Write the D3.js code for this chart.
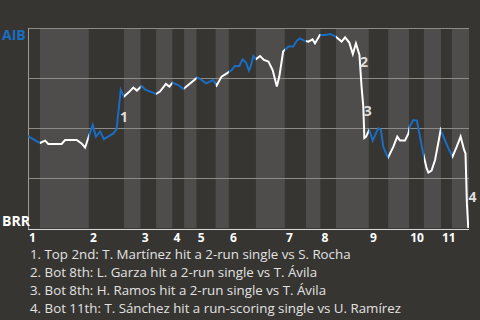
<!DOCTYPE html>
<html>
<head>
<meta charset="utf-8">
<script src="https://cdn.jsdelivr.net/npm/d3@7"></script>
<style>
body { margin: 0; background: #363531; }
svg { display: block; font-family: 'Open Sans', sans-serif; }
</style>
</head>
<body>
<script>
const teams = ['AIB', 'BRR'];

// half-inning edges, in plays from the first pitch (top 1st, bot 1st, top 2nd ...)
const halfEdges = [0, 3.4, 17.4, 27.4, 32.2, 36.6, 41.3, 44.6, 48.2, 53.6, 57.4,
    65.1, 73.4, 79.4, 83.6, 88, 97.4, 102.9, 108.9, 113.1, 118, 121.1, 126];

const innings = ['1', '2', '3', '4', '5', '6', '7', '8', '9', '10', '11'];

// [play, AIB win probability %]
const wp = [
    [0, 46], [3.4, 42.5], [4.9, 43.7], [5.8, 42], [9.6, 42], [10.6, 44], [13.9, 44],
    [15.3, 42.3], [16.3, 40.2], [17.2, 44.9], [18.5, 51.5], [19.4, 45.7], [20.6, 48.2],
    [21.7, 44.4], [22.9, 45.7], [24.4, 47.3], [25.3, 49.3], [26.5, 69], [27.4, 65.7],
    [28.7, 67.7], [30.1, 70.2], [31.1, 68.7], [32.5, 71], [33.4, 69.3], [34.9, 68.2],
    [36.6, 67], [37.7, 68.2], [39.4, 72], [40.4, 70.7], [41.3, 72.7], [42.9, 71.5],
    [44.4, 69.5], [46.3, 72.3], [48.4, 75.3], [49.6, 74], [50.9, 72.3], [52.9, 74],
    [53.9, 71.2], [55.3, 75.7], [56.8, 77.3], [58.2, 79], [59.1, 81], [60.4, 81],
    [61.3, 84.3], [62.3, 82.7], [63.1, 78.7], [63.6, 80.7], [64.4, 86], [65.1, 84.3],
    [66.3, 86], [67.4, 84], [68.7, 83.2], [69.9, 79], [71.1, 70.7], [71.8, 75.7],
    [72.9, 88.2], [74.4, 90.7], [75.8, 90.7], [76.8, 93.7], [77.7, 94.8], [78.9, 93.7],
    [80.1, 93.2], [81.3, 94.3], [82, 92.3], [83.4, 96.5], [84.9, 96.5], [86.3, 97],
    [87.7, 96], [89.6, 93.2], [90.6, 95.3], [91.8, 92.7], [92.8, 87], [93.7, 92.3],
    [94.7, 86.5], [95.3, 70.7], [95.8, 60.7], [96.1, 45], [96.6, 45.7], [97.5, 49],
    [98.5, 43.7], [99.4, 47.3], [100.1, 49.8], [100.8, 49.3], [101.5, 40.7], [102.5, 36.5],
    [102.9, 35.3], [104.4, 40.7], [105.5, 45.7], [106.3, 43.7], [107.7, 43.7], [108.7, 47.3],
    [109.1, 51], [110.1, 54], [111.1, 53.7], [112, 45.7], [112.9, 37.3], [113.9, 29.8],
    [114.4, 27.7], [115.3, 28.7], [116.3, 34], [117.2, 42.3], [117.9, 49], [119.1, 44],
    [120.1, 39.8], [121.3, 35.7], [122.5, 40.7], [123.6, 45.7], [124.6, 39], [125, 37.3],
    [125.4, 12.3], [125.8, 0]
];

// where the numbered markers sit
const eventPlay = [25.4, 94, 95.1, 125];
const eventWp = [55.7, 82.75, 58.35, 15.5];

const notes = [
    '1. Top 2nd: T. Martínez hit a 2-run single vs S. Rocha',
    '2. Bot 8th: L. Garza hit a 2-run single vs T. Ávila',
    '3. Bot 8th: H. Ramos hit a 2-run single vs T. Ávila',
    '4. Bot 11th: T. Sánchez hit a run-scoring single vs U. Ramírez'
];

const blue = '#1a6dc2';

function makeChart(svg) {
    const x = d3.scaleLinear().domain([0, 126]).range([28, 469]);
    const y = d3.scaleLinear().domain([0, 100]).range([228, 28]);

    const halves = d3.pairs(halfEdges).map((p, i) => ({ x0: p[0], x1: p[1], top: i % 2 === 0 }));

    svg.append('g').selectAll('rect')
        .data(halves)
        .join('rect')
        .attr('x', d => x(d.x0))
        .attr('width', d => x(d.x1) - x(d.x0))
        .attr('y', y(100))
        .attr('height', y(0) - y(100))
        .attr('fill', d => d.top ? '#363531' : '#4e4d4b');

    svg.append('g').selectAll('line')
        .data([25, 50, 75, 100])
        .join('line')
        .attr('x1', x(0)).attr('x2', x(126))
        .attr('y1', d => y(d) + 0.5).attr('y2', d => y(d) + 0.5)
        .attr('stroke', '#8c8b88');

    svg.append('line')
        .attr('x1', x(0) + 0.5).attr('x2', x(0) + 0.5)
        .attr('y1', y(100)).attr('y2', y(0) + 1)
        .attr('stroke', '#9c9b98');

    svg.append('line')
        .attr('x1', x(0)).attr('x2', x(126))
        .attr('y1', y(0) + 1.5).attr('y2', y(0) + 1.5)
        .attr('stroke', '#d8d8d8');

    // one clip per side: AIB bats in the top halves (blue), BRR in the bottom (white)
    [true, false].forEach(top => {
        svg.append('clipPath').attr('id', top ? 'tops' : 'bots')
            .selectAll('rect')
            .data(halves.filter(d => d.top === top))
            .join('rect')
            .attr('x', d => x(d.x0))
            .attr('width', d => x(d.x1) - x(d.x0))
            .attr('y', 0).attr('height', 320);
    });

    const line = d3.line().x(d => x(d[0])).y(d => y(d[1]));

    svg.append('path')
        .datum(wp)
        .attr('d', line)
        .attr('clip-path', 'url(#bots)')
        .attr('fill', 'none')
        .attr('stroke', '#fff')
        .attr('stroke-width', 2);

    svg.append('path')
        .datum(wp)
        .attr('d', line)
        .attr('clip-path', 'url(#tops)')
        .attr('fill', 'none')
        .attr('stroke', blue)
        .attr('stroke-width', 2);

    svg.append('g').selectAll('text')
        .data(eventPlay)
        .join('text')
        .attr('x', d => x(d) + 3)
        .attr('y', (d, i) => y(eventWp[i]))
        .attr('dy', '0.35em')
        .attr('fill', '#dedede')
        .attr('font-size', 14)
        .attr('font-weight', 'bold')
        .text((d, i) => i + 1);

    svg.append('g').selectAll('text')
        .data(innings)
        .join('text')
        .attr('x', (d, i) => x(halfEdges[i * 2]) + 1)
        .attr('y', 242)
        .attr('fill', '#fff')
        .attr('font-size', 12)
        .attr('font-weight', 'bold')
        .text(d => d);

    svg.append('text')
        .attr('x', 2).attr('y', y(100) + 12)
        .attr('fill', blue)
        .attr('font-size', 14).attr('font-weight', 'bold')
        .text(teams[0]);

    svg.append('text')
        .attr('x', 2).attr('y', y(0) - 2)
        .attr('fill', '#fff')
        .attr('font-size', 14).attr('font-weight', 'bold')
        .text(teams[1]);

    svg.append('g').selectAll('text')
        .data(notes)
        .join('text')
        .attr('x', 30)
        .attr('y', (d, i) => 259 + i * 18)
        .attr('fill', '#e2e2e2')
        .attr('font-size', 13.3)
        .text(d => d);
}

function main() {
    const svg = d3.select('body')
        .append('svg')
        .attr('width', 480)
        .attr('height', 320);
    makeChart(svg);
}

main();
</script>
</body>
</html>
